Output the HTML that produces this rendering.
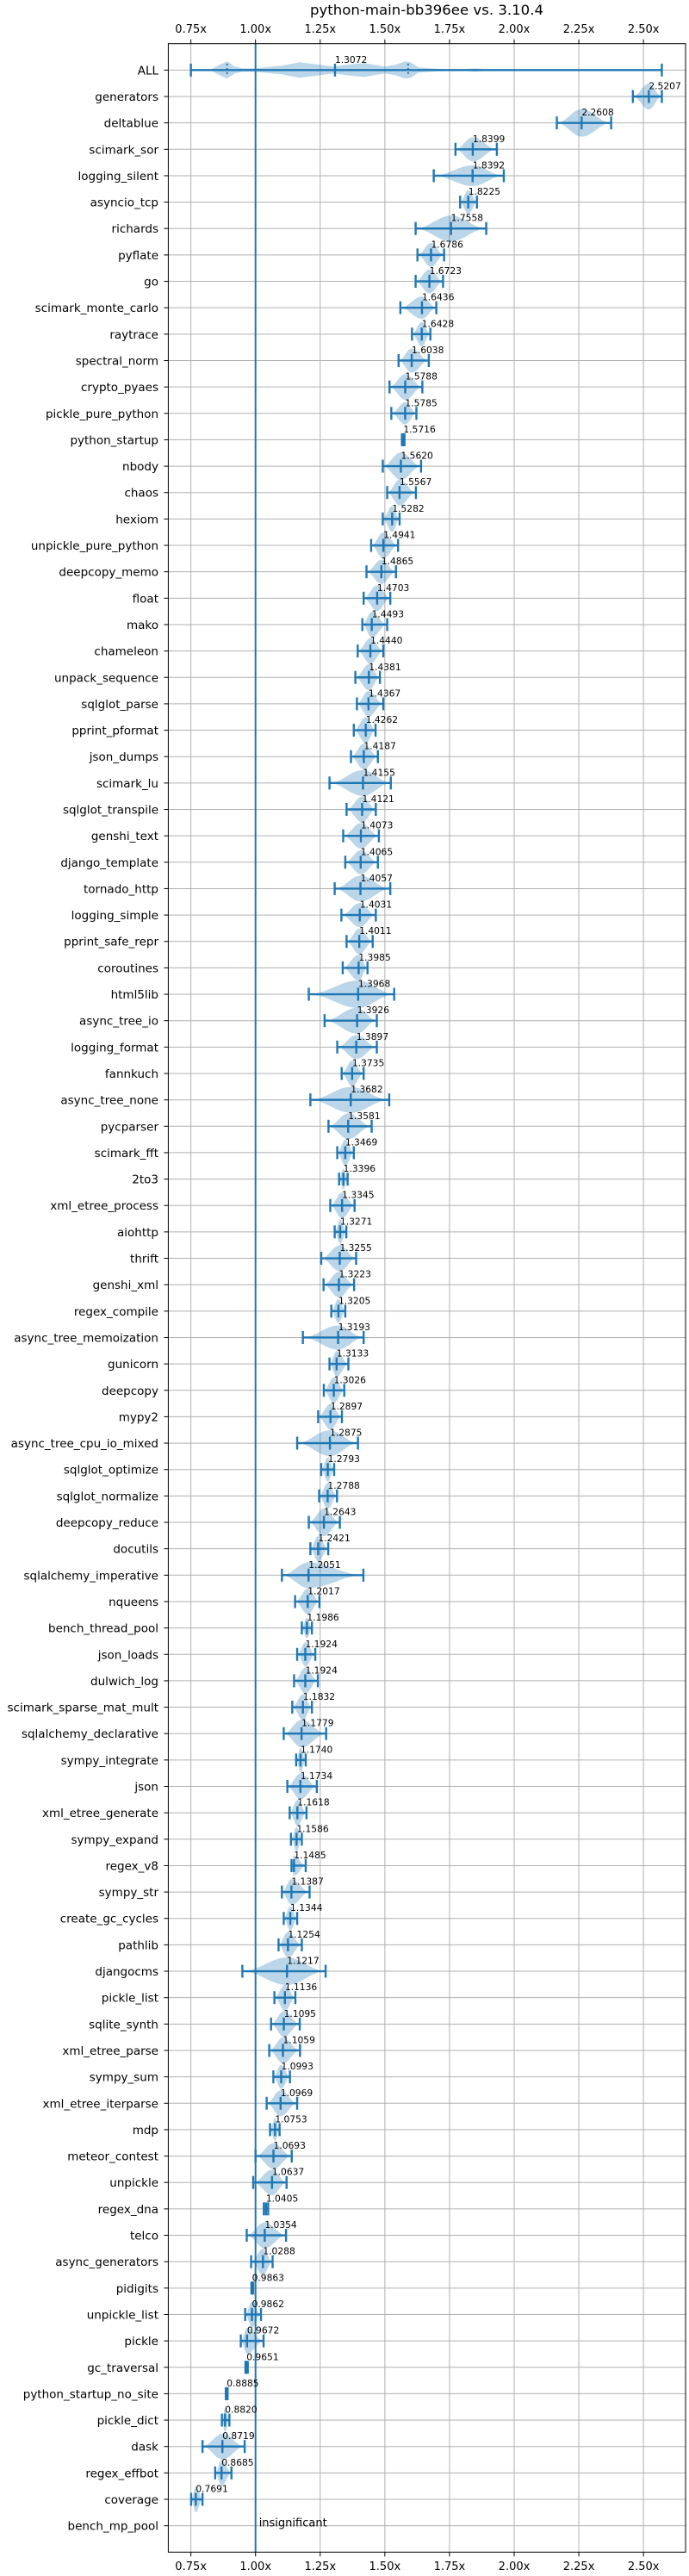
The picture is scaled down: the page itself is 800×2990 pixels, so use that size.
<!DOCTYPE html>
<html><head><meta charset="utf-8">
<style>
html,body{margin:0;padding:0;background:#fff;}
svg{display:block;font-family:"DejaVu Sans","Liberation Sans",sans-serif;}
</style></head>
<body>
<svg id="chart" width="800" height="2990" viewBox="0 0 800 2990" xmlns="http://www.w3.org/2000/svg">
<rect x="0" y="0" width="800" height="2990" fill="#fff"/>
<text x="495.5" y="17" font-size="16" text-anchor="middle" textLength="271" lengthAdjust="spacingAndGlyphs" fill="#000">python-main-bb396ee vs. 3.10.4</text>
<g id="grid"></g><g id="violins"></g><g id="marks"></g><g id="labels"></g><g id="axes"></g>
</svg>
<script>
const names = ["ALL","generators","deltablue","scimark_sor","logging_silent","asyncio_tcp","richards","pyflate","go","scimark_monte_carlo","raytrace","spectral_norm","crypto_pyaes","pickle_pure_python","python_startup","nbody","chaos","hexiom","unpickle_pure_python","deepcopy_memo","float","mako","chameleon","unpack_sequence","sqlglot_parse","pprint_pformat","json_dumps","scimark_lu","sqlglot_transpile","genshi_text","django_template","tornado_http","logging_simple","pprint_safe_repr","coroutines","html5lib","async_tree_io","logging_format","fannkuch","async_tree_none","pycparser","scimark_fft","2to3","xml_etree_process","aiohttp","thrift","genshi_xml","regex_compile","async_tree_memoization","gunicorn","deepcopy","mypy2","async_tree_cpu_io_mixed","sqlglot_optimize","sqlglot_normalize","deepcopy_reduce","docutils","sqlalchemy_imperative","nqueens","bench_thread_pool","json_loads","dulwich_log","scimark_sparse_mat_mult","sqlalchemy_declarative","sympy_integrate","json","xml_etree_generate","sympy_expand","regex_v8","sympy_str","create_gc_cycles","pathlib","djangocms","pickle_list","sqlite_synth","xml_etree_parse","sympy_sum","xml_etree_iterparse","mdp","meteor_contest","unpickle","regex_dna","telco","async_generators","pidigits","unpickle_list","pickle","gc_traversal","python_startup_no_site","pickle_dict","dask","regex_effbot","coverage","bench_mp_pool"];
const medians = [1.3072,2.5207,2.2608,1.8399,1.8392,1.8225,1.7558,1.6786,1.6723,1.6436,1.6428,1.6038,1.5788,1.5785,1.5716,1.5620,1.5567,1.5282,1.4941,1.4865,1.4703,1.4493,1.4440,1.4381,1.4367,1.4262,1.4187,1.4155,1.4121,1.4073,1.4065,1.4057,1.4031,1.4011,1.3985,1.3968,1.3926,1.3897,1.3735,1.3682,1.3581,1.3469,1.3396,1.3345,1.3271,1.3255,1.3223,1.3205,1.3193,1.3133,1.3026,1.2897,1.2875,1.2793,1.2788,1.2643,1.2421,1.2051,1.2017,1.1986,1.1924,1.1924,1.1832,1.1779,1.1740,1.1734,1.1618,1.1586,1.1485,1.1387,1.1344,1.1254,1.1217,1.1136,1.1095,1.1059,1.0993,1.0969,1.0753,1.0693,1.0637,1.0405,1.0354,1.0288,0.9863,0.9862,0.9672,0.9651,0.8885,0.8820,0.8719,0.8685,0.7691,1.0];
const mins = [0.75,2.459,2.165,1.773,1.689,1.791,1.619,1.626,1.619,1.560,1.605,1.553,1.518,1.525,1.566,1.492,1.509,1.492,1.447,1.429,1.418,1.413,1.395,1.386,1.392,1.380,1.369,1.286,1.352,1.339,1.347,1.306,1.332,1.352,1.337,1.206,1.267,1.316,1.333,1.212,1.282,1.316,1.323,1.289,1.306,1.254,1.263,1.293,1.183,1.286,1.264,1.242,1.161,1.254,1.246,1.206,1.212,1.102,1.153,1.179,1.161,1.149,1.142,1.109,1.157,1.123,1.132,1.137,1.139,1.102,1.109,1.089,0.949,1.073,1.060,1.053,1.069,1.043,1.056,1.000,0.991,1.032,0.966,0.983,0.984,0.960,0.943,0.961,0.885,0.870,0.795,0.844,0.751,1.0];
const maxs = [2.571,2.571,2.375,1.933,1.960,1.856,1.892,1.729,1.725,1.699,1.676,1.670,1.645,1.622,1.576,1.640,1.620,1.557,1.551,1.543,1.521,1.509,1.494,1.481,1.494,1.464,1.473,1.523,1.465,1.477,1.473,1.521,1.465,1.453,1.433,1.536,1.469,1.469,1.418,1.517,1.449,1.380,1.356,1.383,1.351,1.389,1.381,1.347,1.418,1.359,1.343,1.334,1.396,1.304,1.315,1.326,1.281,1.417,1.247,1.218,1.231,1.241,1.218,1.273,1.194,1.237,1.197,1.179,1.194,1.209,1.161,1.179,1.271,1.154,1.171,1.172,1.133,1.161,1.093,1.140,1.120,1.049,1.118,1.066,0.991,1.021,1.031,0.970,0.892,0.899,0.958,0.907,0.795,1.0];
const halfs = [0,15,16,14,12,14,15,14,14,13,14,14,15,13,2,16,15,15,15,14,15,15,15,15,15,15,15,15,15,15,14,15,14,15,15,16,15,14,15,15,15,15,12,15,14,15,15,14,14,15,15,15,15,14,15,16,15,15,15,12,14,15,15,16,14,15,15,14,12,15,14,15,16,15,15,15,14,15,13,15,15,6,15,15,2,15,15,2,2,14,15,15,15,0];
const allProfileX = [0.75,0.83,0.86,0.89,0.92,0.95,1.0,1.1,1.17,1.25,1.3,1.35,1.42,1.5,1.54,1.58,1.6,1.63,1.7,1.8,1.85,1.9,2.0,2.3,2.571];
const allProfileH = [0,1,6,10,4,2,2,5,9,6,4,6,8,4,6,10,9,3,1.5,1,2,0.8,0.4,0.2,0];
const allQuartiles = [0.89,1.59];
const xTicks = [0.75,1.0,1.25,1.5,1.75,2.0,2.25,2.5];
const tickLabels = ["0.75x","1.00x","1.25x","1.50x","1.75x","2.00x","2.25x","2.50x"];

const L=195.4,R=796,T=50.7,B=2962.3;
const rowH=(B-T)/(names.length+1);
function xs(v){return 296.7+(v-1)*300.3;}
function ys(i){return T+(i+1)*rowH;}
const NS="http://www.w3.org/2000/svg";
function mk(tag,parent,attrs){const e=document.createElementNS(NS,tag);for(const k in attrs)e.setAttribute(k,attrs[k]);document.getElementById(parent).appendChild(e);return e;}
const BLUE="#1f77b4";

// grid
xTicks.forEach((t,k)=>{
  const g=mk('line','grid',{x1:xs(t),x2:xs(t),y1:T,y2:B,stroke:'#b0b0b0','stroke-width':1});
  
  
  const tt=mk('text','axes',{x:xs(t),y:38,'font-size':13,'text-anchor':'middle',fill:'#000'});
  tt.textContent=tickLabels[k];
  
  
  const tb=mk('text','axes',{x:xs(t),y:2983,'font-size':13,'text-anchor':'middle',fill:'#000'});
  tb.textContent=tickLabels[k];
  
  
  mk('line','axes',{x1:xs(t),x2:xs(t),y1:T-5,y2:T,stroke:'#000','stroke-width':1});
  mk('line','axes',{x1:xs(t),x2:xs(t),y1:B,y2:B+5,stroke:'#000','stroke-width':1});
});
names.forEach((n,i)=>{
  const y=ys(i);
  const g=mk('line','grid',{x1:L,x2:R,y1:y,y2:y,stroke:'#b0b0b0','stroke-width':1});
  
  
  mk('line','axes',{x1:L-5,x2:L,y1:y,y2:y,stroke:'#000','stroke-width':1});
  const t=mk('text','labels',{x:184,y:y+5,'font-size':13.5,'text-anchor':'end',fill:'#000'});
  t.textContent=n;
  
  
});

// violins
function cap(x,y,h){mk('line','marks',{x1:x,x2:x,y1:y-h,y2:y+h,stroke:BLUE,'stroke-width':2.4});}
names.forEach((n,i)=>{
  const y=ys(i);
  if(i===names.length-1){
    const t=mk('text','labels',{x:xs(1.0)+4,y:y+1,'font-size':13,fill:'#000'});
    t.textContent='insignificant';
    
    
    return;
  }
  let pts=[];
  if(i===0){
    const up=allProfileX.map((v,k)=>xs(v).toFixed(1)+','+(y-allProfileH[k]).toFixed(1));
    const dn=allProfileX.map((v,k)=>xs(v).toFixed(1)+','+(y+allProfileH[k]).toFixed(1)).reverse();
    pts=up.concat(dn);
  } else {
    const mn=mins[i],mx=maxs[i],md=medians[i],h=halfs[i],N=30;
    const up=[],dn=[];
    for(let k=0;k<=N;k++){
      const v=mn+(mx-mn)*k/N;
      let s= v<md ? (v-mn)/Math.max(md-mn,1e-6) : (mx-v)/Math.max(mx-md,1e-6);
      s=Math.max(0,Math.min(1,s));
      const f=(1-Math.cos(Math.PI*s))/2;
      up.push(xs(v).toFixed(1)+','+(y-h*f).toFixed(1));
      dn.push(xs(v).toFixed(1)+','+(y+h*f).toFixed(1));
    }
    pts=up.concat(dn.reverse());
  }
  const p=mk('polygon','violins',{points:pts.join(' '),fill:BLUE,'fill-opacity':0.3});
  
  
  const ln=mk('line','marks',{x1:xs(mins[i]),x2:xs(maxs[i]),y1:y,y2:y,stroke:BLUE,'stroke-width':2.4});
  
  
  cap(xs(mins[i]),y,7.5);cap(xs(maxs[i]),y,7.5);cap(xs(medians[i]),y,7.5);
  if(i===0){allQuartiles.forEach(q=>mk('line','marks',{x1:xs(q),x2:xs(q),y1:y-7.5,y2:y+7.5,stroke:BLUE,'stroke-width':2,'stroke-dasharray':'2,3'}));}
  const t=mk('text','labels',{x:xs(medians[i]),y:y-8.5,'font-size':10.7,fill:'#000'});
  t.textContent=medians[i].toFixed(4);
  
  
});
// reference line at 1.00
const ref=mk('line','marks',{x1:xs(1),x2:xs(1),y1:T,y2:B,stroke:BLUE,'stroke-width':2});


const box=mk('rect','axes',{x:L,y:T,width:R-L,height:B-T,fill:'none',stroke:'#000','stroke-width':1});


</script>
</body></html>
